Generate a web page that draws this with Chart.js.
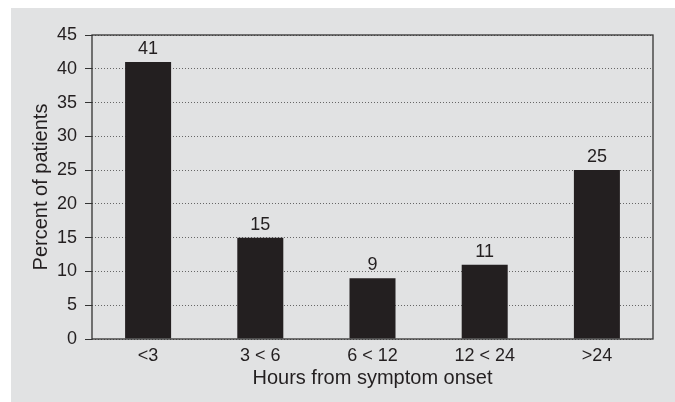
<!DOCTYPE html>
<html>
<head>
<meta charset="utf-8">
<script src="https://cdn.jsdelivr.net/npm/chart.js@4.4.0/dist/chart.umd.min.js"></script>
<style>
  html, body { margin: 0; padding: 0; background: #ffffff; }
  #wrap { width: 675px; height: 402px; }
</style>
</head>
<body>
<div id="wrap"><canvas id="barChart" width="675" height="402"></canvas></div>
<script>
// categories and values
var categories = ["<3", "3 < 6", "6 < 12", "12 < 24", ">24"];
var percents = [41, 15, 9, 11, 25];
var yTicks = [0, 5, 10, 15, 20, 25, 30, 35, 40, 45];

var ink = "#231f20";
var fontFamily = "'Liberation Sans', Arial, Helvetica, sans-serif";

// grey panel behind everything + solid frame of the plot
var panelPlugin = {
  id: "panel",
  beforeDraw: function (chart) {
    var c = chart.ctx;
    c.save();
    c.fillStyle = "#ffffff";
    c.fillRect(0, 0, chart.width, chart.height);
    c.fillStyle = "#e1e2e3";
    c.fillRect(11, 8, chart.width - 11, chart.height - 8);
    c.restore();
  },
  afterDatasetsDraw: function (chart) {
    var a = chart.chartArea;
    var c = chart.ctx;
    c.save();
    c.strokeStyle = "#333333";
    c.lineWidth = 1.3;
    c.strokeRect(a.left, a.top, a.right - a.left, a.bottom - a.top);
    c.restore();
  }
};

// value above each bar
var labelPlugin = {
  id: "barLabels",
  afterDatasetsDraw: function (chart) {
    var c = chart.ctx;
    var meta = chart.getDatasetMeta(0);
    c.save();
    c.fillStyle = ink;
    c.font = "18px " + fontFamily;
    c.textAlign = "center";
    c.textBaseline = "alphabetic";
    meta.data.forEach(function (bar, i) {
      c.fillText(String(percents[i]), bar.x, bar.y - 8);
    });
    c.restore();
  }
};

var ctx = document.getElementById("barChart");
var myChart = new Chart(ctx, {
  type: "bar",
  data: {
    labels: categories,
    datasets: [{
      data: percents,
      backgroundColor: ink,
      borderWidth: 0,
      categoryPercentage: 1.0,
      barPercentage: 0.41
    }]
  },
  options: {
    responsive: false,
    animation: false,
    layout: { padding: { top: 35, right: 22, left: 11, bottom: 0 } },
    plugins: {
      legend: { display: false },
      tooltip: { enabled: false }
    },
    scales: {
      x: {
        afterFit: function (s) { s.height = 63; },
        grid: { display: false, drawTicks: false, tickLength: 0 },
        border: { display: false },
        ticks: {
          color: ink,
          font: { size: 18, family: fontFamily },
          padding: 6,
          maxRotation: 0
        },
        title: {
          display: true,
          text: "Hours from symptom onset",
          color: ink,
          font: { size: 20, family: fontFamily },
          padding: { top: 0, bottom: 12 }
        }
      },
      y: {
        min: 0,
        max: 45,
        afterFit: function (s) { s.width = 81; },
        afterBuildTicks: function (s) {
          s.ticks = yTicks.map(function (v) { return { value: v }; });
        },
        border: { display: false, dash: [1, 2] },
        grid: {
          color: "#666666",
          lineWidth: 1,
          tickBorderDash: [],
          tickColor: "#333333",
          tickLength: 7
        },
        ticks: {
          color: ink,
          font: { size: 18, family: fontFamily },
          padding: 8
        },
        title: {
          display: true,
          text: "Percent of patients",
          color: ink,
          font: { size: 20, family: fontFamily },
          padding: { top: 18, bottom: 0 }
        }
      }
    }
  },
  plugins: [panelPlugin, labelPlugin]
});
</script>
</body>
</html>
